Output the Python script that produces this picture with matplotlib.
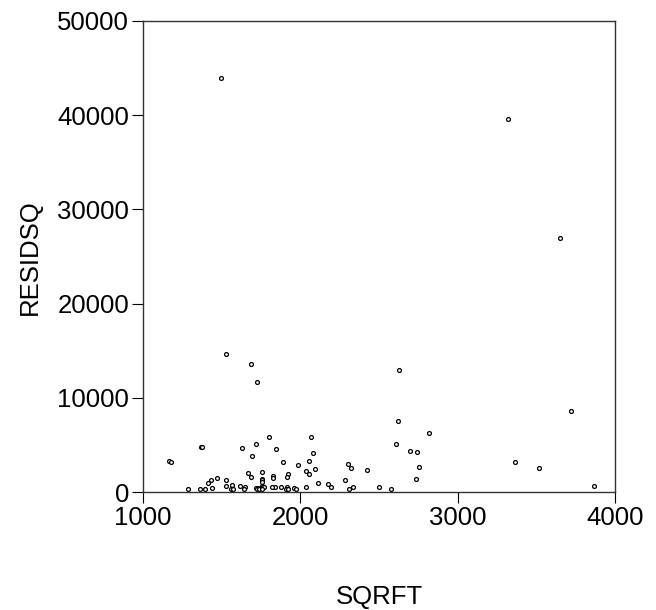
import matplotlib
matplotlib.use('Agg')
import matplotlib.pyplot as plt

# square footage of each house
sqrft = [
    1494, 3320, 3651, 1528, 1687, 2627, 1723, 3721, 2623, 2818,
    2066, 1803, 1720, 2608, 1369, 1375, 1629, 1845, 2699, 2744,
    2079, 1691, 1165, 1176, 1888, 2055, 3363, 2305, 1987, 2755,
    3516, 2324, 2095, 2426, 2038, 1754, 1665, 2057, 1920, 1828,
    1828, 1918, 1684, 1470, 1757, 1757, 1757, 1757, 1528, 2737,
    2282, 1430, 1413, 2112, 2176, 1566, 1617, 1915, 1528, 3869,
    1877, 1841, 2502, 2036, 2333, 1822, 1650, 2195, 1763, 1769,
    1437, 1286, 1362, 1396, 1557, 1574, 1644, 1718, 1729, 1725,
    1740, 1755, 1909, 1924, 1962, 1971, 2310, 2579,
]

# squared residuals
residsq = [
    43980, 39630, 27010, 14600, 13540, 12940, 11700, 8560, 7560, 6220,
    5830, 5800, 5120, 5120, 4800, 4800, 4670, 4530, 4320, 4240,
    4170, 3820, 3320, 3210, 3210, 3290, 3210, 2970, 2860, 2620,
    2580, 2550, 2440, 2330, 2230, 2120, 2050, 1880, 1910, 1700,
    1450, 1560, 1560, 1520, 1350, 1240, 1090, 670, 1310, 1410,
    1310, 1240, 950, 950, 850, 780, 640, 530, 640, 600,
    500, 500, 560, 500, 530, 500, 530, 500, 500, 500,
    420, 320, 320, 290, 290, 290, 290, 390, 390, 350,
    350, 350, 290, 290, 390, 290, 290, 290,
]

x_ticks = [1000, 2000, 3000, 4000]
y_ticks = [0, 10000, 20000, 30000, 40000, 50000]

plt.rcParams['font.family'] = ['Liberation Sans', 'DejaVu Sans']

fig = plt.figure(figsize=(6.56, 6.10), dpi=100)
ax = fig.add_axes([0.218, 0.1934, 0.7195, 0.7722])

ax.plot(sqrft, residsq, linestyle='none', marker='o', markersize=2.8,
        markerfacecolor='white', markeredgecolor='black', markeredgewidth=0.9)

ax.set_xlim(1000, 4000)
ax.set_ylim(0, 50000)
ax.set_xticks(x_ticks)
ax.set_yticks(y_ticks)
ax.tick_params(direction='out', length=8, width=0.8, pad=2, labelsize=18.5,
               colors='black')

for side in ax.spines.values():
    side.set_linewidth(1.0)
    side.set_color('#333333')

ax.set_xlabel('SQRFT', fontsize=18.5)
ax.set_ylabel('RESIDSQ', fontsize=18.5)
ax.xaxis.set_label_coords(0.502, -0.197)
ax.yaxis.set_label_coords(-0.214, 0.499)

fig.savefig('out.png', dpi=100)
